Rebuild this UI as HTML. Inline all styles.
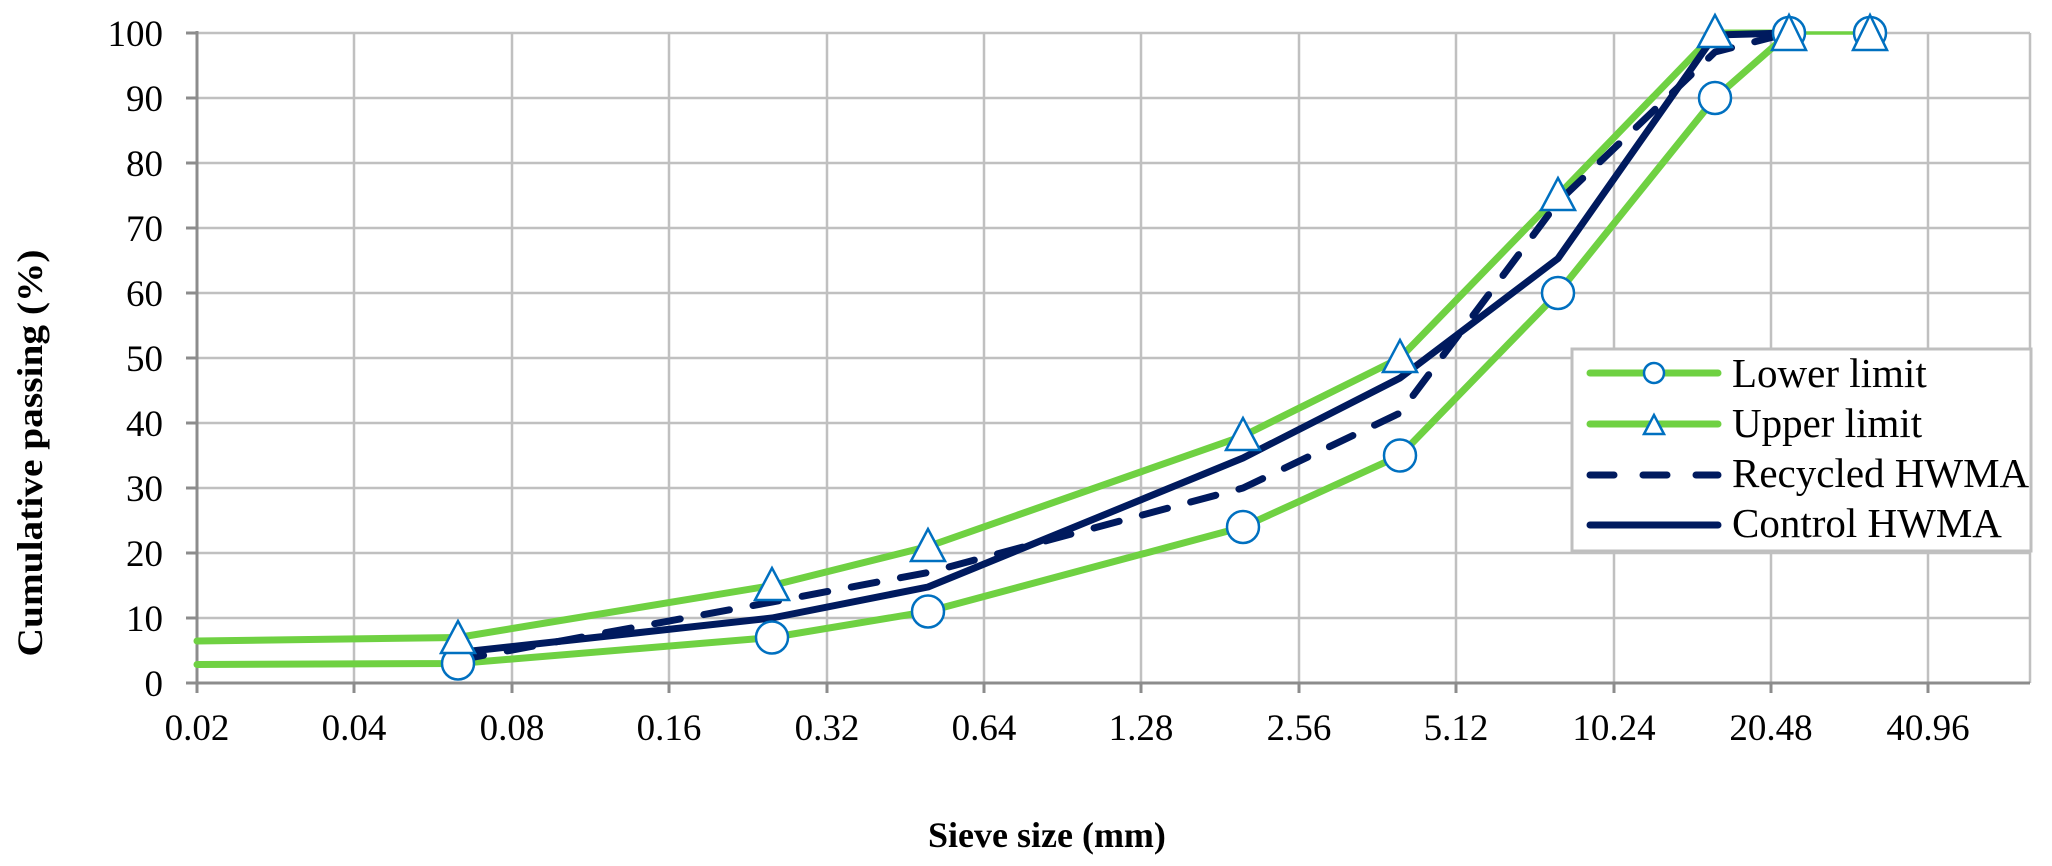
<!DOCTYPE html>
<html><head><meta charset="utf-8"><style>html,body{margin:0;padding:0;background:#fff}svg{display:block}</style></head>
<body>
<svg width="2052" height="866" viewBox="0 0 2052 866" xmlns="http://www.w3.org/2000/svg" font-family="'Liberation Serif', serif">
<rect width="2052" height="866" fill="#fff"/>
<g stroke="#c0c0c0" stroke-width="2.5" fill="none">
<line x1="197" y1="33" x2="2030" y2="33"/>
<line x1="197" y1="98" x2="2030" y2="98"/>
<line x1="197" y1="163" x2="2030" y2="163"/>
<line x1="197" y1="228" x2="2030" y2="228"/>
<line x1="197" y1="293" x2="2030" y2="293"/>
<line x1="197" y1="358" x2="2030" y2="358"/>
<line x1="197" y1="423" x2="2030" y2="423"/>
<line x1="197" y1="488" x2="2030" y2="488"/>
<line x1="197" y1="553" x2="2030" y2="553"/>
<line x1="197" y1="618" x2="2030" y2="618"/>
<line x1="354" y1="33" x2="354" y2="683"/>
<line x1="512" y1="33" x2="512" y2="683"/>
<line x1="669" y1="33" x2="669" y2="683"/>
<line x1="827" y1="33" x2="827" y2="683"/>
<line x1="984" y1="33" x2="984" y2="683"/>
<line x1="1141" y1="33" x2="1141" y2="683"/>
<line x1="1299" y1="33" x2="1299" y2="683"/>
<line x1="1456" y1="33" x2="1456" y2="683"/>
<line x1="1614" y1="33" x2="1614" y2="683"/>
<line x1="1771" y1="33" x2="1771" y2="683"/>
<line x1="1928" y1="33" x2="1928" y2="683"/>
<line x1="2030" y1="33" x2="2030" y2="683"/>
</g>
<g stroke="#8c8c8c" stroke-width="3" fill="none">
<line x1="197" y1="31" x2="197" y2="693"/>
<line x1="186" y1="683" x2="2030" y2="683"/>
<line x1="186" y1="33" x2="197" y2="33"/><line x1="186" y1="98" x2="197" y2="98"/><line x1="186" y1="163" x2="197" y2="163"/><line x1="186" y1="228" x2="197" y2="228"/><line x1="186" y1="293" x2="197" y2="293"/><line x1="186" y1="358" x2="197" y2="358"/><line x1="186" y1="423" x2="197" y2="423"/><line x1="186" y1="488" x2="197" y2="488"/><line x1="186" y1="553" x2="197" y2="553"/><line x1="186" y1="618" x2="197" y2="618"/>
<line x1="354" y1="683" x2="354" y2="693"/><line x1="512" y1="683" x2="512" y2="693"/><line x1="669" y1="683" x2="669" y2="693"/><line x1="827" y1="683" x2="827" y2="693"/><line x1="984" y1="683" x2="984" y2="693"/><line x1="1141" y1="683" x2="1141" y2="693"/><line x1="1299" y1="683" x2="1299" y2="693"/><line x1="1456" y1="683" x2="1456" y2="693"/><line x1="1614" y1="683" x2="1614" y2="693"/><line x1="1771" y1="683" x2="1771" y2="693"/><line x1="1928" y1="683" x2="1928" y2="693"/>
</g>
<g font-size="37" fill="#000" text-anchor="end">
<text x="163" y="46">100</text><text x="163" y="111">90</text><text x="163" y="176">80</text><text x="163" y="241">70</text><text x="163" y="306">60</text><text x="163" y="371">50</text><text x="163" y="436">40</text><text x="163" y="501">30</text><text x="163" y="566">20</text><text x="163" y="631">10</text><text x="163" y="696">0</text>
</g>
<g font-size="37" fill="#000" text-anchor="middle">
<text x="197" y="740">0.02</text><text x="354" y="740">0.04</text><text x="512" y="740">0.08</text><text x="669" y="740">0.16</text><text x="827" y="740">0.32</text><text x="984" y="740">0.64</text><text x="1141" y="740">1.28</text><text x="1299" y="740">2.56</text><text x="1456" y="740">5.12</text><text x="1614" y="740">10.24</text><text x="1771" y="740">20.48</text><text x="1928" y="740">40.96</text>
</g>
<text x="928" y="847" font-size="36" font-weight="bold">Sieve size (mm)</text>
<text transform="translate(42,453) rotate(-90)" font-size="36" font-weight="bold" text-anchor="middle" textLength="407" lengthAdjust="spacingAndGlyphs">Cumulative passing (%)</text>
<!-- series -->
<g fill="none" stroke-linejoin="round" stroke-linecap="round">
<polyline stroke="#6fd142" stroke-width="7" points="197,664.5 458,663.5 772,637.5 928,611.5 1243,527 1400,455.5 1558,293 1715,98 1789,33"/>
<polyline stroke="#6fd142" stroke-width="7" points="197,641 458,637.5 772,585.5 928,546.5 1243,436 1400,358 1558,195.5 1715,33 1789,33"/>
<line x1="1789" y1="33" x2="1870" y2="33" stroke="#6fd142" stroke-width="3.5"/>
<polyline stroke="#001a5e" stroke-width="7" stroke-dasharray="26,24" stroke-linecap="round" points="458,660 772,602 928,572.5 1243,488 1400,413 1558,202 1715,52 1789,33"/>
<polyline stroke="#001a5e" stroke-width="7" points="458,652.5 772,618 928,587 1243,458 1400,378 1558,258.5 1715,35 1789,33"/>
</g>
<g fill="#fff" stroke="#0070c0" stroke-width="2.5">
<circle cx="458" cy="663.5" r="16"/><circle cx="772" cy="637.5" r="16"/><circle cx="928" cy="611.5" r="16"/><circle cx="1243" cy="527" r="16"/><circle cx="1400" cy="455.5" r="16"/><circle cx="1558" cy="293" r="16"/><circle cx="1715" cy="98" r="16"/><circle cx="1789" cy="33" r="16"/><circle cx="1870" cy="33" r="16"/>
<polygon points="458,621 441,653 475,653"/><polygon points="772,568 755,600 789,600"/><polygon points="928,529 911,561 945,561"/><polygon points="1243,418 1226,450 1260,450"/><polygon points="1400,340 1383,372 1417,372"/><polygon points="1558,178 1541,210 1575,210"/><polygon points="1715,15 1698,47 1732,47"/><polygon points="1789,15 1772,50 1806,50"/><polygon points="1870,15 1853,50 1887,50"/>
</g>
<!-- legend -->
<rect x="1572" y="349" width="459" height="202" fill="#fff" stroke="#bfbfbf" stroke-width="3"/>
<g fill="none" stroke-linecap="round">
<line x1="1590" y1="373" x2="1718" y2="373" stroke="#6fd142" stroke-width="7"/>
<line x1="1590" y1="424" x2="1718" y2="424" stroke="#6fd142" stroke-width="7"/>
<line x1="1590" y1="475" x2="1718" y2="475" stroke="#001a5e" stroke-width="7" stroke-dasharray="24,29"/>
<line x1="1590" y1="525" x2="1718" y2="525" stroke="#001a5e" stroke-width="7"/>
</g>
<circle cx="1654" cy="373" r="10" fill="#fff" stroke="#0070c0" stroke-width="2.5"/>
<polygon points="1654,415 1644,434 1664,434" fill="#fff" stroke="#0070c0" stroke-width="2.5"/>
<g font-size="41" fill="#000">
<text x="1732" y="387">Lower limit</text>
<text x="1732" y="437">Upper limit</text>
<text x="1732" y="487">Recycled HWMA</text>
<text x="1732" y="537">Control HWMA</text>
</g>
</svg>
</body></html>
